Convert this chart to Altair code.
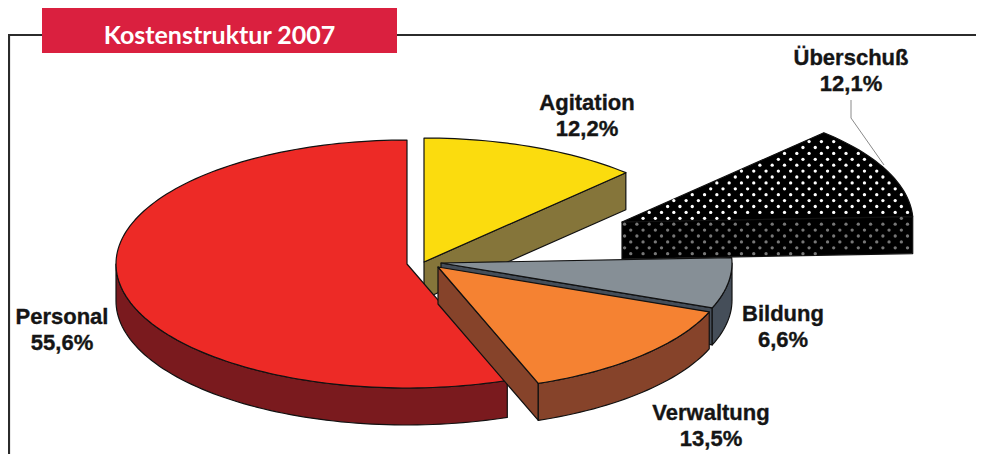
import math
import altair as alt

TITLE = "Kostenstruktur 2007"
CATEGORIES = ["Agitation", "Überschuß", "Bildung", "Verwaltung", "Personal"]
SHARES = [12.2, 12.1, 6.6, 13.5, 55.6]

TOP_COLORS = ["#FBDC0E", "#000000", "#868F96", "#F58232", "#ED2A26"]
SIDE_COLORS = ["#85753A", "#000000", "#454E59", "#86432A", "#7A1A1E"]

# layout of the drawing (reference pixels)
RX, RY, DEPTH = 291, 124, 37
APEX = {"Agitation": (424, 262), "Überschuß": (622, 222), "Bildung": (441, 263),
        "Verwaltung": (438, 267), "Personal": (407, 264)}
LABEL_AT = {"Agitation": (587, 110), "Überschuß": (851, 65), "Bildung": (783, 321),
            "Verwaltung": (711, 420), "Personal": (62, 324)}
DRAW_ORDER = ["Agitation", "Bildung", "Personal", "Verwaltung"]
DOT_DX, DOT_DY = 12.3, 5.9


def point(c, deg, drop=0):
    a = math.radians(deg)
    return (c[0] + RX * math.sin(a), c[1] - RY * math.cos(a) + drop)


def arc(c, a0, a1, drop=0):
    n = max(2, int(abs(a1 - a0) / 1.5))
    return [point(c, a0 + (a1 - a0) * i / n, drop) for i in range(n + 1)]


def feature(poly, fill):
    ring = [list(p) for p in poly] + [list(poly[0])]
    return {"type": "Feature", "geometry": {"type": "Polygon", "coordinates": [ring]},
            "properties": {"fill": fill}}


def inside(p, poly):
    x, y = p
    hit = False
    for (x0, y0), (x1, y1) in zip(poly, poly[1:] + poly[:1]):
        if (y0 > y) != (y1 > y) and x < x0 + (y - y0) * (x1 - x0) / (y1 - y0):
            hit = not hit
    return hit


def texture(poly, margin=1.5):
    xs = [p[0] for p in poly]
    ys = [p[1] for p in poly]
    out = []
    row = math.floor(min(ys) / DOT_DY)
    y = row * DOT_DY
    while y <= max(ys):
        x = 600 + (DOT_DX / 2 if row % 2 else 0)
        while x <= max(xs):
            ok = all(inside((x + dx, y + dy), poly)
                     for dx, dy in [(margin, 0), (-margin, 0), (0, margin), (0, -margin)])
            if ok:
                out.append({"lon": x, "lat": y})
            x += DOT_DX
        y += DOT_DY
        row += 1
    return out


slices = {}
start = 0.0
for name, share, top, side in zip(CATEGORIES, SHARES, TOP_COLORS, SIDE_COLORS):
    a0, a1 = start, start + share * 3.6
    start = a1
    c = APEX[name]
    top_poly = [c] + arc(c, a0, a1)
    walls = []
    # radial cut face at the end of the slice, when it faces the viewer
    if math.sin(math.radians(a1)) > 0.01:
        e = point(c, a1)
        walls.append([c, e, (e[0], e[1] + DEPTH), (c[0], c[1] + DEPTH)])
    # rim wall: the part of the arc on the near side of the ellipse
    lo, hi = max(a0, 90), min(a1, 270)
    if hi > lo:
        walls.append(arc(c, lo, hi) + arc(c, hi, lo, DEPTH))
    slices[name] = dict(top=top_poly, walls=walls, top_color=top, side_color=side)

sur = slices["Überschuß"]
back_features = [feature(w, "#000000") for w in sur["walls"]] + [feature(sur["top"], "#000000")]
dots_top = texture(sur["top"])
dots_side = [d for w in sur["walls"] for d in texture(w)]

front_features = []
for name in DRAW_ORDER:
    s = slices[name]
    front_features += [feature(w, s["side_color"]) for w in s["walls"]]
    front_features.append(feature(s["top"], s["top_color"]))

proj = dict(type="identity", scale=1, translate=[-8, -8])
blank = alt.Data(values=[{}])


def shapes(features):
    return (alt.Chart(alt.Data(values=features))
            .mark_geoshape(stroke="#111111", strokeWidth=1.2, strokeJoin="round")
            .encode(fill=alt.Fill("properties.fill:N", scale=None))
            .project(**proj))


def dots(rows, color):
    return (alt.Chart(alt.Data(values=rows))
            .mark_circle(color=color, size=11, opacity=1)
            .encode(longitude="lon:Q", latitude="lat:Q")
            .project(**proj))


leader = (alt.Chart(alt.Data(values=[{"type": "Feature", "geometry": {
            "type": "LineString", "coordinates": [[851, 100], [851, 118], [884, 165]]},
            "properties": {}}]))
          .mark_geoshape(filled=False, stroke="#8a8a8a", strokeWidth=1)
          .project(**proj))

frame = [
    alt.Chart(blank).mark_rule(color="#2b2b2b", strokeWidth=2.2).encode(
        x=alt.value(1), x2=alt.value(968), y=alt.value(27)),
    alt.Chart(blank).mark_rule(color="#2b2b2b", strokeWidth=2.2).encode(
        x=alt.value(1), y=alt.value(26), y2=alt.value(446)),
    alt.Chart(blank).mark_rect(color="#DA203F").encode(
        x=alt.value(34), x2=alt.value(389), y=alt.value(0), y2=alt.value(45)),
    alt.Chart(alt.Data(values=[{"t": TITLE}])).mark_text(
        font="Lato", fontWeight="bold", fontSize=25, color="#ffffff", align="center",
        baseline="alphabetic").encode(x=alt.value(211.5), y=alt.value(36), text="t:N"),
]

labels = []
for name, share in zip(CATEGORIES, SHARES):
    x, y = LABEL_AT[name]
    txt = f"{name}\n{share:.1f}%".replace(".", ",")
    labels.append(
        alt.Chart(alt.Data(values=[{"t": txt}])).mark_text(
            font="Liberation Sans", fontWeight="bold", fontSize=22, color="#151515",
            stroke="#151515", strokeWidth=0.35,
            align="center", baseline="alphabetic", lineBreak="\n", lineHeight=26,
        ).encode(x=alt.value(x - 8), y=alt.value(y - 8), text="t:N"))

chart = alt.layer(
    *frame,
    leader,
    shapes(back_features),
    dots(dots_top, "#ffffff"),
    dots(dots_side, "#777777"),
    shapes(front_features),
    *labels,
).properties(width=968, height=446, padding=0, background="#ffffff",
             autosize=alt.AutoSizeParams(type="none")
).configure_view(stroke=None)

chart.save("out.html", embed_options={"renderer": "svg", "actions": False})
